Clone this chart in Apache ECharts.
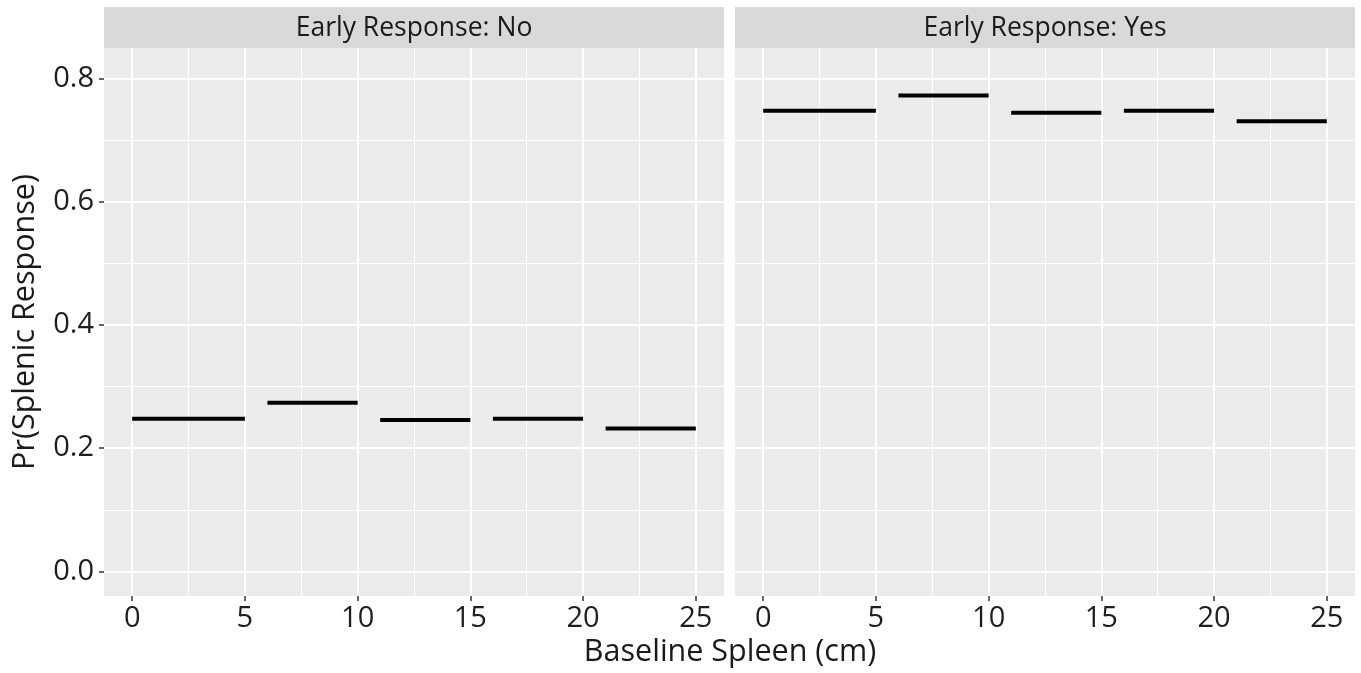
<!DOCTYPE html>
<html><head><meta charset="utf-8">
<script src="https://cdn.jsdelivr.net/npm/echarts@6/dist/echarts.min.js"></script>
<style>html,body{margin:0;padding:0;background:#fff}#c{width:1361px;height:673px}</style>
</head><body><div id="c"></div>
<script>
// ---- data ----
const panels = ['Early Response: No', 'Early Response: Yes'];
const binStart = [0, 6, 11, 16, 21];
const binEnd = [5, 10, 15, 20, 25];
const probNo = [0.248, 0.274, 0.246, 0.248, 0.232];
const probYes = [0.748, 0.773, 0.745, 0.748, 0.731];
const xTicks = [0, 5, 10, 15, 20, 25];
const yTicks = [0, 0.2, 0.4, 0.6, 0.8];
const xTitle = 'Baseline Spleen (cm)';
const yTitle = 'Pr(Splenic Response)';

// ---- layout / style ----
const FONT = 'Open Sans';
const panelVals = [probNo, probYes];
const gridPos = [{left: 104, width: 620}, {left: 735, width: 620}];
const TOP = 48, BOTTOM_Y = 596;
const T = 'rgba(0,0,0,0)';
const xMin = -1.25, xMax = 26.25, xStep = 1.25;
const yMin = -0.04, yMax = 0.85, yStep = 0.02;

const grids = [], xAxes = [], yAxes = [], series = [], graphics = [];

function cyc(n, idx) { const a = []; for (let i = 0; i < n; i++) a.push(i === idx ? '#ffffff' : T); return a; }

panels.forEach((name, p) => {
  grids.push({left: gridPos[p].left, width: gridPos[p].width, top: TOP, height: BOTTOM_Y - TOP,
    show: true, backgroundColor: '#EBEBEB', borderWidth: 0, containLabel: false});
  const baseX = {type: 'value', gridIndex: p, min: xMin, max: xMax, interval: xStep, position: 'bottom',
    axisLine: {show: false, onZero: false}, axisTick: {show: false}, axisLabel: {show: false}, splitLine: {show: false}};
  // major grid lines (0,5,10,...)
  xAxes.push(Object.assign({}, baseX, {splitLine: {show: true, lineStyle: {color: cyc(4, 1), width: 2}}}));
  // minor grid lines (2.5, 7.5, ...)
  xAxes.push(Object.assign({}, baseX, {splitLine: {show: true, lineStyle: {color: cyc(4, 3), width: 1}}}));
  // labels & ticks
  xAxes.push(Object.assign({}, baseX, {
    axisTick: {show: true, customValues: xTicks, length: 5, lineStyle: {color: '#333', width: 1.5}},
    axisLabel: {show: true, customValues: xTicks, margin: 8, fontFamily: FONT, fontSize: 29, color: '#1e1e1e'}
  }));

  const baseY = {type: 'value', gridIndex: p, min: yMin, max: yMax, interval: yStep, position: 'left',
    axisLine: {show: false, onZero: false}, axisTick: {show: false}, axisLabel: {show: false}, splitLine: {show: false}};
  yAxes.push(Object.assign({}, baseY, {splitLine: {show: true, lineStyle: {color: cyc(10, 2), width: 2}}}));
  yAxes.push(Object.assign({}, baseY, {splitLine: {show: true, lineStyle: {color: cyc(10, 7), width: 1}}}));
  const yl = Object.assign({}, baseY);
  if (p === 0) {
    Object.assign(yl, {
      axisTick: {show: true, customValues: yTicks, length: 5, lineStyle: {color: '#333', width: 1.5}},
      axisLabel: {show: true, customValues: yTicks, margin: 10, fontFamily: FONT, fontSize: 29, color: '#1e1e1e',
        formatter: v => Number(v).toFixed(1)},
      name: yTitle, nameLocation: 'middle', nameGap: 63,
      nameTextStyle: {fontFamily: FONT, fontSize: 30.5, color: '#1a1a1a'}
    });
  }
  yAxes.push(yl);

  const vals = panelVals[p];
  binStart.forEach((s, k) => {
    series.push({type: 'line', xAxisIndex: 3 * p + 2, yAxisIndex: 3 * p + 2,
      data: [[s, vals[k]], [binEnd[k], vals[k]]],
      symbol: 'none', showSymbol: false, silent: true,
      lineStyle: {color: '#000', width: 4, cap: 'butt'}});
  });

  // facet strip
  graphics.push({type: 'rect', shape: {x: gridPos[p].left, y: 7, width: gridPos[p].width, height: TOP - 7},
    style: {fill: '#D9D9D9'}, silent: true});
  graphics.push({type: 'text', x: gridPos[p].left + gridPos[p].width / 2, y: 28,
    style: {text: name, fontFamily: FONT, fontSize: 26.5, fill: '#1a1a1a', align: 'center', verticalAlign: 'middle'}});
});

graphics.push({type: 'text', x: 730, y: 652,
  style: {text: xTitle, fontFamily: FONT, fontSize: 30.5, fill: '#1a1a1a', align: 'center', verticalAlign: 'middle'}});

const chart = echarts.init(document.getElementById('c'), null, {renderer: 'canvas'});
chart.setOption({
  animation: false,
  backgroundColor: '#ffffff',
  grid: grids, xAxis: xAxes, yAxis: yAxes, series: series, graphic: graphics
});
</script></body></html>
